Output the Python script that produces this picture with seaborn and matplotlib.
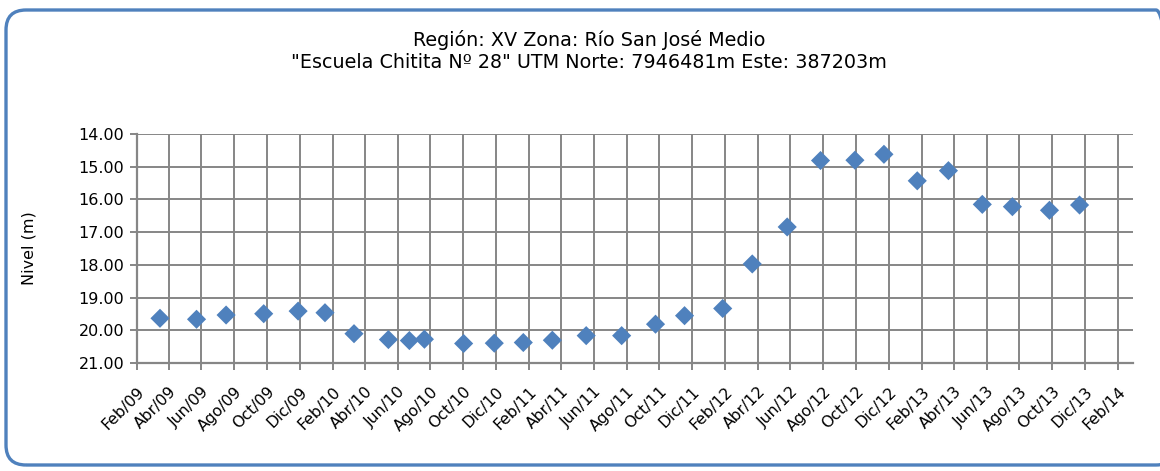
import pandas as pd
import matplotlib.pyplot as plt
from matplotlib.patches import FancyBboxPatch
from matplotlib.transforms import IdentityTransform
import seaborn as sns

dates = [
    "2009-03-16", "2009-05-23", "2009-07-17", "2009-09-25", "2009-11-28",
    "2010-01-17", "2010-03-12", "2010-05-15", "2010-06-23", "2010-07-21",
    "2010-10-02", "2010-11-28", "2011-01-21", "2011-03-16", "2011-05-18",
    "2011-07-23", "2011-09-24", "2011-11-17", "2012-01-27", "2012-03-22",
    "2012-05-26", "2012-07-27", "2012-09-29", "2012-11-22", "2013-01-23",
    "2013-03-22", "2013-05-24", "2013-07-19", "2013-09-26", "2013-11-21",
]
nivel = [
    19.63, 19.66, 19.53, 19.49, 19.41,
    19.46, 20.10, 20.28, 20.31, 20.27,
    20.40, 20.39, 20.37, 20.30, 20.16,
    20.16, 19.81, 19.55, 19.33, 17.97,
    16.84, 14.81, 14.80, 14.62, 15.43,
    15.12, 16.15, 16.22, 16.33, 16.17,
]
mes_abbr = ["Ene", "Feb", "Mar", "Abr", "May", "Jun",
            "Jul", "Ago", "Sep", "Oct", "Nov", "Dic"]
y_ticks = [14, 15, 16, 17, 18, 19, 20, 21]

TITLE = ('Región: XV Zona: Río San José Medio\n'
         '"Escuela Chitita Nº 28" UTM Norte: 7946481m Este: 387203m')
BLUE = "#4F81BD"
GRID = "#868686"


def main():
    df = pd.DataFrame({"fecha": pd.to_datetime(dates), "nivel": nivel})

    sns.set_theme(style="white")
    plt.rcParams['font.family'] = ['DejaVu Sans']
    plt.rcParams['text.color'] = 'black'
    plt.rcParams['xtick.color'] = 'black'
    plt.rcParams['ytick.color'] = 'black'
    plt.rcParams['axes.labelcolor'] = 'black'

    fig = plt.figure(figsize=(11.6, 4.71), dpi=100)
    ax = fig.add_axes([0.118, 0.229, 0.859, 0.4865])

    # rounded frame around the chart (pixel coordinates), right edge runs off the image
    frame = FancyBboxPatch((6, 6), 1170, 455, boxstyle="round,pad=0,rounding_size=20",
                           transform=IdentityTransform(), fill=False,
                           edgecolor=BLUE, linewidth=2.4, clip_on=False)
    fig.patches.append(frame)

    sns.scatterplot(data=df, x="fecha", y="nivel", marker="D", s=95,
                    color=BLUE, edgecolor="none", ax=ax, zorder=3)

    # x axis: every 2 months
    ticks = pd.date_range("2009-02-01", "2014-02-01", freq="2MS")
    ax.set_xticks(ticks)
    ax.set_xticklabels([f"{mes_abbr[t.month - 1]}/{t.strftime('%y')}" for t in ticks],
                       rotation=45, ha="right", rotation_mode="anchor", fontsize=11.3)
    ax.set_xlim(pd.Timestamp("2009-02-01"), pd.Timestamp("2014-03-01"))

    ax.set_yticks(y_ticks)
    ax.set_yticklabels([f"{v:.2f}" for v in y_ticks], fontsize=11.5)
    ax.set_ylim(21, 14)

    ax.grid(True, color=GRID, linewidth=1.4)
    for side in ["left", "bottom"]:
        ax.spines[side].set_color(GRID)
        ax.spines[side].set_linewidth(1.6)
    for side in ["top", "right"]:
        ax.spines[side].set_visible(False)
    ax.tick_params(axis="both", direction="out", length=5, width=1.4,
                   color=GRID, left=True, bottom=True, pad=4)
    ax.tick_params(axis="x", pad=10)

    ax.set_xlabel("")
    ax.set_ylabel("Nivel (m)", fontsize=11.5, labelpad=30)
    fig.text(0.508, 0.937, TITLE, ha="center", va="top", fontsize=13.8, linespacing=1.22)

    fig.savefig("out.png", dpi=100)
    plt.close(fig)


if __name__ == "__main__":
    main()
